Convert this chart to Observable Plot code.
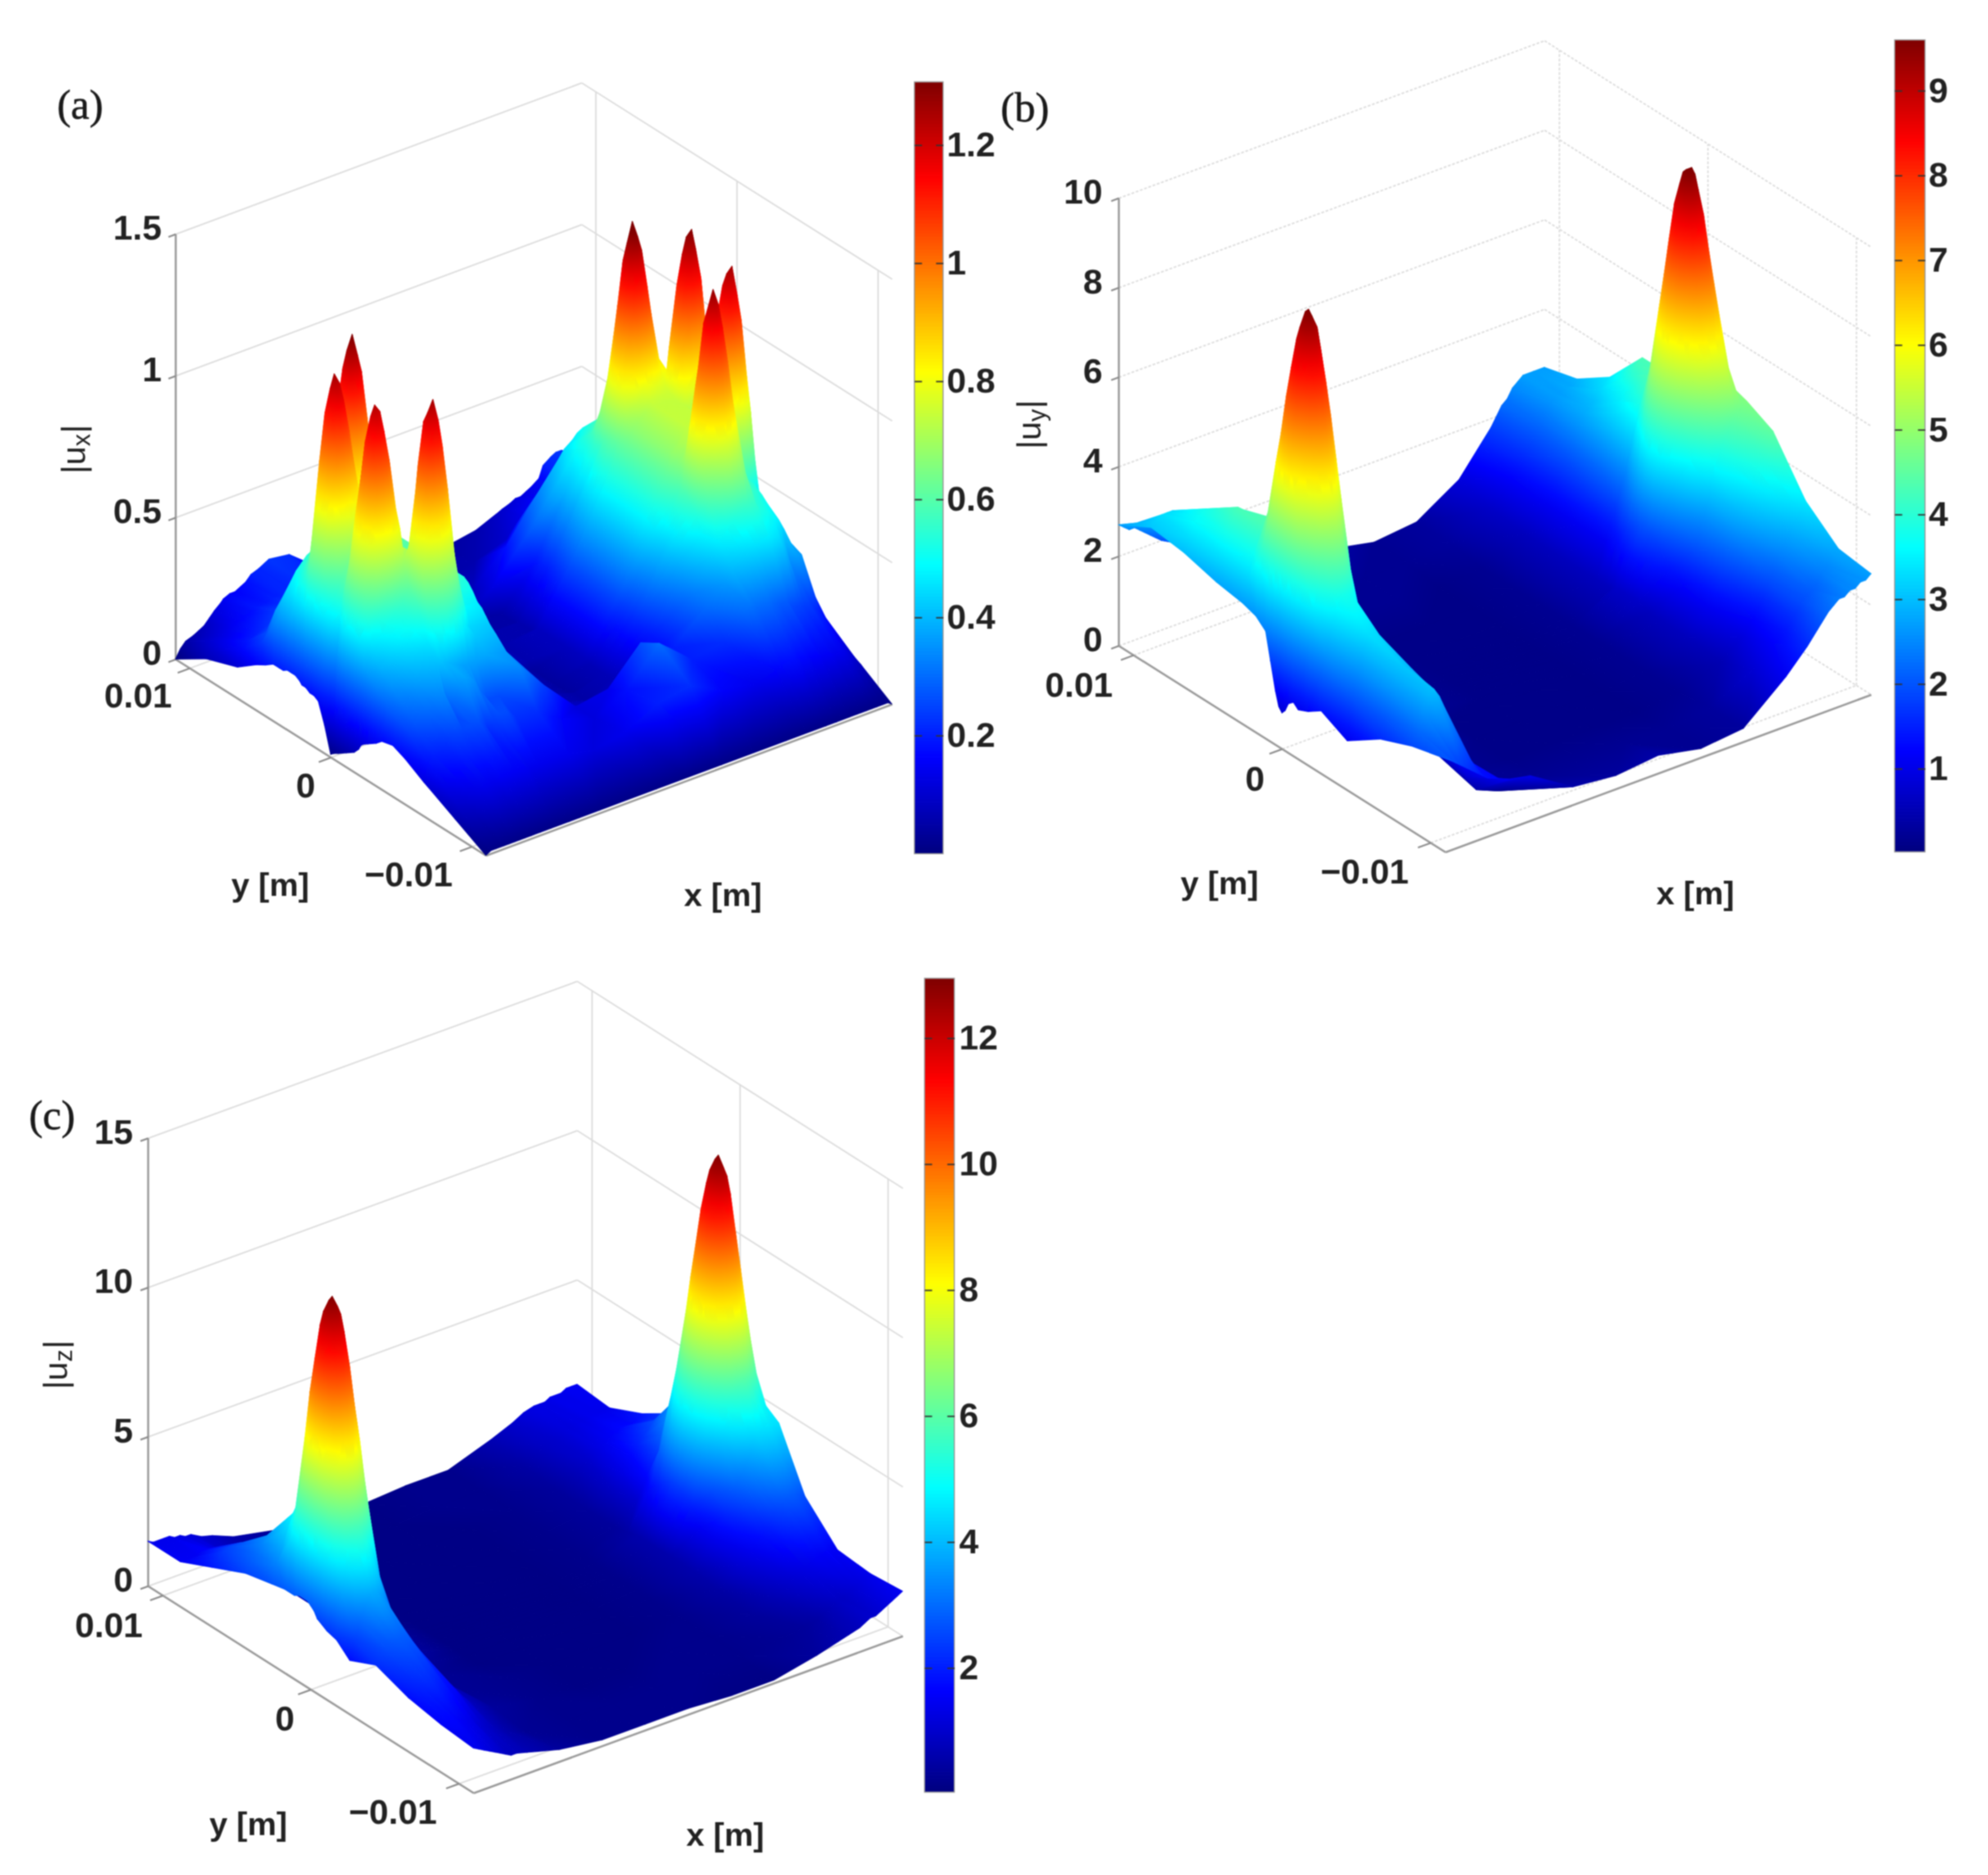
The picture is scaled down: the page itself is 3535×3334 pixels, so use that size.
<!DOCTYPE html>
<html><head><meta charset="utf-8">
<script src="https://cdn.jsdelivr.net/npm/d3@7"></script>
<script src="https://cdn.jsdelivr.net/npm/@observablehq/plot@0.6"></script>
<style>html,body{margin:0;background:#fff}#page{position:relative;width:3535px;height:3334px;overflow:hidden}#page svg{position:absolute;background:transparent;filter:blur(0.8px)}</style>
</head><body><div id="page"></div>
<script>
// Sample positions along the plate, as fractions of its extent (x: near corner to right, y: near corner to left)
const xFracA=[0,.012,.025,.044,.057,.07,.083,.096,.112,.118,.134,.147,.16,.173,.186,.205,.23,.28,.34,.42,.5,.58,.66,.74,.79,.805,.824,.837,.85,.863,.876,.895,.905,.924,.937,.95,.963,.976,.99,1];
const yFracA=[1,.9,.8,.74,.71,.685,.666,.653,.64,.627,.614,.6,.593,.58,.567,.554,.54,.52,.5,.49,.476,.463,.45,.437,.424,.41,.402,.393,.38,.367,.354,.335,.3,.26,.2,.1,0];
const xFracBC=[0,.0125,.025,.0375,.05,.0625,.075,.0875,.1,.125,.15,.2,.3,.4,.5,.6,.7,.8,.85,.875,.9,.9125,.925,.9375,.95,.9625,.975,.9875,1];
const yFracBC=[1,.9,.8,.7,.62,.58,.55,.535,.52,.51,.5,.49,.48,.465,.45,.42,.38,.3,.2,.1,0];

// |u_x| in hundredths
const uxRows=[
[0,3,5,6,7,8,10,12,14,15,16,16,17,18,20,21,23,22,15,10,5,5,4,6,9,10,11,12,12,13,14,16,20,22,23,23,22,20,19,17],
[7,10,12,13,14,15,16,17,18,19,19,19,20,20,21,21,22,20,12,7,4,5,6,10,14,16,17,18,18,18,19,20,22,22,23,23,23,22,20,18],
[11,17,19,20,21,22,23,24,25,25,25,25,25,25,24,24,24,20,11,6,4,8,18,33,42,45,47,49,50,50,50,49,42,38,35,32,30,26,22,18],
[16,23,26,27,28,29,30,31,31,31,30,29,28,27,26,25,24,20,10,5,4,12,25,40,50,53,55,57,58,58,58,57,48,45,41,38,34,30,24,18],
[18,30,36,40,42,43,45,46,47,48,47,46,45,44,43,43,40,34,14,5,5,5,18,40,52,57,60,62,63,64,64,63,57,54,52,48,44,38,30,20],
[20,35,42,47,50,52,54,55,57,63,70,73,73,70,64,55,46,38,18,6,5,5,20,42,55,66,77,83,86,84,80,71,61,58,55,52,47,41,32,20],
[20,37,44,50,53,55,56,58,62,75,92,101,103,97,85,66,49,41,20,6,5,5,20,42,56,74,93,105,110,106,96,79,62,58,55,52,47,42,32,20],
[20,38,46,52,55,57,58,60,66,83,106,119,122,115,99,73,51,43,22,7,6,6,21,44,59,80,105,120,126,121,108,85,64,60,57,54,49,44,34,22],
[21,40,49,55,59,61,62,63,68,87,112,126,131,123,105,77,53,45,23,7,6,6,22,45,60,84,111,127,134,128,114,89,66,63,61,57,52,46,35,22],
[21,41,51,59,63,66,67,67,71,86,109,122,125,118,102,76,54,46,24,8,6,6,23,46,61,83,108,123,129,124,111,88,68,68,66,63,57,51,38,24],
[21,43,54,66,72,75,76,74,73,83,98,107,109,103,91,72,55,47,25,8,6,6,24,47,61,80,99,111,116,112,102,85,72,74,75,72,66,57,42,25],
[20,46,62,80,91,96,95,88,79,76,81,83,82,79,73,64,56,49,26,9,6,7,25,47,62,72,84,90,93,91,87,79,81,92,97,96,88,73,49,28],
[19,49,69,96,112,120,117,106,86,74,71,69,67,65,63,60,58,50,27,10,6,8,26,48,62,69,74,77,80,79,78,77,90,111,121,123,112,92,58,32],
[19,50,71,100,117,126,122,110,89,74,68,65,63,61,61,60,60,52,27,10,6,8,26,48,62,67,70,72,75,75,75,75,93,116,128,130,119,96,60,32],
[18,49,69,96,112,120,117,106,87,73,67,64,61,60,60,60,60,52,27,10,6,8,26,48,62,67,70,72,74,74,74,75,91,112,122,124,113,92,58,32],
[18,48,65,87,100,106,105,97,83,72,67,64,61,60,60,60,60,52,27,10,6,8,26,48,62,67,70,72,74,74,74,74,86,101,108,108,99,81,53,30],
[17,46,58,71,78,83,83,81,76,71,67,64,61,60,60,60,60,52,27,10,6,8,26,48,62,67,70,72,74,74,74,74,78,83,84,82,75,63,45,28],
[10,44,53,60,63,66,68,69,71,70,67,64,61,60,60,60,60,52,27,10,6,8,26,48,62,67,70,72,74,74,74,74,72,69,65,61,56,49,39,27],
[1,30,50,62,66,70,71,72,72,70,67,64,61,60,60,60,60,52,27,9,4,8,26,48,62,67,70,72,74,74,74,74,73,72,69,66,60,52,40,26],
[2,38,58,71,78,83,83,81,76,71,67,64,61,60,60,60,60,52,27,9,4,8,26,48,62,67,70,72,74,74,74,74,77,82,82,80,73,62,44,28],
[3,46,65,86,98,105,103,96,83,72,67,64,61,60,60,60,60,53,28,9,4,8,26,48,62,67,70,72,74,74,74,74,85,99,105,105,96,79,52,30],
[4,48,69,96,111,119,116,106,87,73,67,64,62,60,60,60,60,53,28,9,4,8,26,48,62,67,70,72,74,74,74,75,90,109,119,120,110,89,57,31],
[5,49,71,99,116,124,121,109,89,73,68,65,63,61,61,60,60,53,28,9,4,8,26,48,62,68,71,73,75,75,75,75,91,113,124,126,115,93,58,32],
[6,48,68,94,110,118,115,104,86,73,69,66,64,62,61,60,60,53,28,9,4,8,26,47,61,67,71,73,75,75,74,74,88,107,116,117,107,87,56,31],
[7,46,62,83,95,100,99,91,80,72,71,69,66,64,62,60,58,52,28,9,4,7,24,46,60,67,72,74,76,75,73,73,81,92,98,98,90,75,50,29],
[9,40,53,65,72,77,77,75,70,70,76,80,79,76,70,61,55,50,27,8,4,7,23,44,58,70,79,84,87,85,82,74,71,76,77,76,69,59,42,26],
[11,37,46,53,57,60,61,62,64,75,93,103,105,99,87,67,53,48,26,8,4,7,23,43,59,76,94,104,109,105,97,80,66,64,62,60,54,48,37,24],
[12,36,43,48,51,53,55,57,61,79,104,118,121,114,98,71,51,47,25,8,4,7,22,42,58,78,101,116,122,117,104,83,63,59,56,54,49,43,35,22],
[13,34,40,45,48,50,52,54,59,79,106,122,126,118,100,71,49,46,24,8,4,7,22,42,57,79,104,120,128,122,108,84,63,59,56,54,49,43,34,22],
[14,33,39,43,46,48,50,52,57,75,100,114,117,110,94,67,47,44,23,8,5,7,21,40,55,75,98,113,120,115,102,80,61,57,55,53,48,42,33,21],
[15,31,37,41,43,45,47,49,53,66,84,94,96,90,78,60,44,42,22,8,5,7,20,38,53,69,87,98,104,100,91,74,58,56,54,52,47,41,32,21],
[17,29,35,38,40,42,43,44,46,53,61,65,65,62,56,47,42,40,21,8,5,8,19,36,48,59,68,74,77,75,72,64,56,54,52,50,46,40,31,20],
[18,27,31,33,35,37,38,39,40,41,40,39,38,37,37,37,38,36,20,9,7,10,18,32,43,47,50,52,54,55,56,55,53,51,49,47,43,38,30,19],
[16,24,27,29,30,31,33,34,26,30,35,37,36,34,30,26,26,34,24,12,14,26,20,30,36,40,42,43,44,45,46,47,46,44,40,34,37,36,26,17],
[12,18,20,21,22,24,25,25,26,26,27,25,22,24,26,26,22,22,16,12,18,30,20,22,30,31,30,30,30,29,28,28,26,25,24,24,22,20,17,13],
[6,9,10,12,13,14,14,14,15,15,15,15,15,15,14,14,14,14,12,14,20,22,16,14,16,17,18,18,17,17,16,16,15,15,14,14,13,11,9,7],
[0,1,1,1,1,1,1,1,1,1,1,1,1,1,1,1,1,1,1,1,1,1,1,1,1,1,1,1,1,1,1,1,1,1,1,1,1,1,1,0]];

// |u_y| in tenths
const uyRows=[
[27,26,25,25,24,23,22,21,20,19,19,15,10,6,4,2,3,9,15,18,22,23,25,26,27,27,27,27,27],
[31,32,33,33,33,32,31,29,27,22,18,12,6,3,2,2,3,7,12,16,20,22,24,26,27,27,28,28,29],
[30,33,36,37,38,37,35,32,28,21,15,8,3,2,2,1,2,6,11,15,20,23,26,28,29,30,32,33,34],
[28,33,38,41,43,42,40,35,30,21,14,6,2,1,1,1,2,6,11,16,22,26,30,33,35,37,40,42,43],
[27,32,37,40,43,44,42,38,33,20,11,5,2,1,1,1,2,6,11,17,25,30,35,39,42,44,44,44,43],
[26,40,46,50,53,54,53,48,42,26,14,5,2,1,1,1,2,6,14,23,35,42,48,53,56,57,57,53,48],
[24,51,61,67,71,73,71,65,57,34,18,6,2,1,1,1,2,6,17,29,47,55,64,71,74,75,71,65,55],
[18,57,68,76,81,83,81,74,64,39,20,6,2,1,1,1,2,6,18,32,53,63,72,80,84,84,79,71,59],
[12,62,75,83,89,91,89,81,71,43,22,6,2,1,1,1,2,7,19,35,57,69,79,88,92,92,86,75,62],
[9,64,77,86,92,95,92,84,73,44,23,6,2,1,1,1,2,7,20,36,59,71,82,91,95,95,88,77,64],
[8,65,78,87,93,96,93,85,74,45,23,6,2,1,1,1,2,7,20,36,60,72,83,92,96,96,89,78,64],
[9,64,77,86,92,95,92,84,73,44,23,6,2,1,1,1,2,7,20,36,59,71,82,91,95,95,88,77,64],
[11,58,72,81,88,91,88,80,70,42,22,6,2,1,1,1,2,7,19,35,57,69,79,88,92,92,86,75,62],
[12,50,64,74,80,83,80,73,63,38,20,6,2,1,1,1,2,7,18,32,53,63,72,80,84,84,79,71,59],
[11,42,55,65,71,73,71,63,55,33,18,6,2,1,1,1,2,7,17,29,47,55,64,71,74,75,71,65,55],
[12,33,42,48,52,54,52,46,40,25,14,5,2,1,1,1,2,6,14,24,36,43,49,54,56,58,58,54,49],
[14,26,32,36,38,38,37,33,28,18,10,4,1,1,1,1,2,6,12,19,26,31,36,39,42,44,46,47,48],
[11,20,26,30,33,33,32,28,24,15,8,3,1,1,1,1,2,6,11,16,22,26,29,32,35,38,40,43,45],
[16,20,26,29,31,30,29,25,20,12,6,2,1,1,1,1,2,5,9,12,16,19,21,24,26,28,30,32,34],
[19,22,26,29,30,28,25,19,14,8,4,2,2,2,2,2,3,8,12,14,17,19,20,21,22,24,25,27,28],
[21,20,19,18,17,16,15,14,13,12,11,10,4,3,4,2,3,11,16,19,22,23,24,24,25,25,26,26,27]];

// |u_z| in tenths
const uzRows=[
[15,14,14,14,14,13,13,12,12,10,9,6,3,1,1,2,2,7,10,12,13,13,13,14,14,14,15,15,15],
[15,15,15,15,16,16,15,14,13,10,8,5,3,1,1,2,2,5,9,10,12,12,13,13,14,14,14,14,14],
[20,22,24,25,25,25,23,20,17,11,7,4,2,1,1,1,2,4,8,10,13,14,15,16,17,17,17,18,19],
[25,28,30,33,35,33,31,27,22,14,7,3,1,1,1,1,2,4,9,13,17,20,22,24,26,26,25,25,26],
[27,33,38,44,48,44,40,33,26,15,8,3,1,1,1,1,2,4,10,17,24,29,34,37,40,37,34,29,25],
[28,44,53,57,58,56,51,45,38,22,13,4,1,1,1,1,2,5,17,29,45,53,58,60,61,60,54,50,45],
[28,62,80,87,89,86,78,68,56,31,16,5,1,1,1,1,2,6,20,38,63,75,84,89,91,88,78,68,57],
[29,72,96,105,107,104,94,81,66,37,18,5,1,1,1,1,2,6,22,43,73,88,99,106,108,104,92,78,64],
[29,81,108,119,121,118,106,91,75,41,20,5,1,1,1,1,2,6,23,47,81,98,111,119,122,117,103,87,69],
[29,84,113,124,127,123,111,96,78,42,21,5,1,1,1,1,2,6,24,48,84,102,115,124,127,122,108,90,71],
[28,85,115,126,129,125,113,97,79,43,21,5,1,1,1,1,2,6,24,49,85,103,117,126,129,124,109,91,72],
[27,82,112,123,127,123,111,96,78,42,21,5,1,1,1,1,2,6,24,48,84,102,115,124,127,122,108,90,71],
[25,76,105,117,121,118,106,91,75,41,20,5,1,1,1,1,2,6,23,47,81,98,111,119,122,117,103,87,69],
[24,66,92,103,107,104,94,81,66,37,18,5,1,1,1,1,2,6,22,43,73,88,99,106,108,104,92,78,64],
[23,56,76,85,89,86,78,68,56,31,16,5,1,1,1,1,2,6,20,38,63,75,84,89,91,88,78,68,57],
[22,38,50,56,58,56,51,45,38,22,13,4,1,1,1,1,2,6,15,26,42,50,56,58,60,58,54,50,48],
[18,24,30,35,38,38,36,32,28,18,9,3,1,1,1,1,2,6,14,21,28,32,36,40,44,45,46,45,45],
[22,24,26,27,28,28,28,25,22,15,9,3,2,1,1,1,2,5,11,14,18,20,23,25,27,28,28,27,26],
[18,20,21,22,22,21,20,18,17,12,8,4,2,1,1,2,2,4,7,9,11,12,13,14,15,15,16,15,15],
[16,17,17,16,15,14,13,11,10,8,6,3,2,2,2,2,2,3,4,5,7,8,9,9,10,11,12,13,14],
[15,14,13,12,11,10,9,8,8,7,6,4,2,2,2,1,1,4,6,7,8,9,10,10,11,12,13,14,15]];

const zTicksA=[0,.5,1,1.5], zTicksB=[0,2,4,6,8,10], zTicksC=[0,5,10,15];
const yTicks=[.01,0,-.01];
const barTicksA=[.2,.4,.6,.8,1,1.2], barTicksB=[1,2,3,4,5,6,7,8,9], barTicksC=[2,4,6,8,10,12];
const jetStops=[0,.125,.375,.625,.875,1];
const jetColors=["#00007f","#0000ff","#00ffff","#ffff00","#ff0000","#7f0000"];

const SANS="'Liberation Sans',Arial,sans-serif", SERIF="'Liberation Serif',serif";
const yFrac=y=>(y+.011)/.022;

function panel(c){
  const P=(u,w,z)=>[c.F[0]+u*c.ex[0]+w*c.ey[0], c.F[1]+u*c.ex[1]+w*c.ey[1]-z*c.zPx];
  const seg=(a,b)=>{const p=P(...a),q=P(...b);return {x1:p[0],y1:p[1],x2:q[0],y2:q[1]};};
  const zTop=c.zTicks[c.zTicks.length-1];
  // surface triangles, far to near
  const H=c.rows.map(r=>r.map(v=>v*c.unit)), rows=[]; let id=0;
  const addTri=(A,B,C)=>{
    const pa=P(...A),pb=P(...B),pc=P(...C),v=(A[2]+B[2]+C[2])/3,vals=[A[2],B[2],C[2]];
    rows.push({id,x1:pa[0],y1:pa[1],x2:pa[0],y2:pa[1],v,vals});
    rows.push({id,x1:pb[0],y1:pb[1],x2:pc[0],y2:pc[1],v,vals}); id++;
  };
  for(let r=0;r<c.W.length-1;r++) for(let k=c.U.length-2;k>=0;k--){
    const a=[c.U[k+1],c.W[r],H[r][k+1]],b=[c.U[k],c.W[r],H[r][k]],d=[c.U[k+1],c.W[r+1],H[r+1][k+1]],e=[c.U[k],c.W[r+1],H[r+1][k]];
    if(Math.abs(b[2]-d[2])<=Math.abs(a[2]-e[2])){addTri(a,b,d);addTri(b,d,e);}
    else{addTri(a,b,e);addTri(a,d,e);}
  }
  const gouraud=(index,scales,values,dims,ctx,next)=>{
    const g=next(index,scales,values,dims,ctx), sel=d3.select(g), defs=sel.append("defs");
    const span=c.barMax-c.barMin;
    sel.selectAll("path").each(function(I,k){
      const r0=rows[I[0]];
      const pts=[[values.x1[I[0]],values.y1[I[0]],r0.vals[0]],[values.x1[I[1]],values.y1[I[1]],r0.vals[1]],[values.x2[I[1]],values.y2[I[1]],r0.vals[2]]].sort((p,q)=>p[2]-q[2]);
      const [L,M,T]=pts, dv=T[2]-L[2];
      if(dv<span*1e-4) return;
      const s=(M[2]-L[2])/dv, qx=L[0]+s*(T[0]-L[0]), qy=L[1]+s*(T[1]-L[1]);
      let nx=-(M[1]-qy), ny=M[0]-qx, len=Math.hypot(nx,ny);
      if(len<1e-6){nx=T[0]-L[0];ny=T[1]-L[1];len=Math.hypot(nx,ny);} 
      if(len<1e-6) return;
      nx/=len;ny/=len;
      let d=(T[0]-L[0])*nx+(T[1]-L[1])*ny;
      if(d<0){nx=-nx;ny=-ny;d=-d;}
      if(d<1e-6) return;
      const gid=`${c.name}g${k}`;
      const grad=defs.append("linearGradient").attr("id",gid).attr("gradientUnits","userSpaceOnUse")
        .attr("x1",L[0]).attr("y1",L[1]).attr("x2",L[0]+nx*d).attr("y2",L[1]+ny*d);
      const n=Math.max(1,Math.ceil(dv/span*24));
      for(let i=0;i<=n;i++) grad.append("stop").attr("offset",i/n).attr("stop-color",scales.color(L[2]+dv*i/n));
      d3.select(this).attr("fill",`url(#${gid})`).attr("stroke",`url(#${gid})`);
    });
    sel.selectAll("path").attr("stroke-width",1.3).attr("stroke-linejoin","round").each(function(I){
      if(!this.getAttribute("stroke")) this.setAttribute("stroke",this.getAttribute("fill"));
    });
    return g;
  };
  // walls and floor
  const wall=[];
  for(const z of c.zTicks){wall.push(seg([0,1,z],[1,1,z]),seg([1,1,z],[1,0,z]));}
  for(const y of yTicks){wall.push(seg([1,yFrac(y),0],[1,yFrac(y),zTop]),seg([0,yFrac(y),0],[1,yFrac(y),0]));}
  const axes=[seg([0,1,0],[0,1,zTop]),seg([0,1,0],[0,0,0]),seg([0,0,0],[1,0,0])];
  const axTicks=[...c.zTicks.map(z=>seg([-.018,1,z],[0,1,z])),...yTicks.map(y=>seg([-.03,yFrac(y),0],[0,yFrac(y),0]))];
  // colour bar
  const by=v=>c.barRef[1]-(v-c.barRef[0])*c.barPx;
  const n=240, step=(c.barMax-c.barMin)/n;
  const bar=d3.range(n).map(i=>{const v=c.barMin+(i+.5)*step;return {v,y1:by(c.barMin+i*step)+.4,y2:by(c.barMin+(i+1)*step)-.4};});
  const barTickRows=c.barTicks.flatMap(v=>[{x1:c.barX[0],x2:c.barX[0]+13,y:by(v)},{x1:c.barX[1]-13,x2:c.barX[1],y:by(v)}]);
  const zLabels=c.zTicks.map(z=>({t:String(z),x:c.zLabelX,y:P(0,1,z)[1]-10}));
  const barLabels=c.barTicks.map(v=>({t:String(v),x:c.barX[1]+c.barGap,y:by(v)}));
  const T={fontFamily:SANS,fontWeight:"bold",fontSize:62,fill:"#222",lineAnchor:"middle"};
  const link=(data,stroke,w,extra={})=>Plot.link(data,{x1:"x1",y1:"y1",x2:"x2",y2:"y2",stroke,strokeWidth:w,strokeLinecap:"butt",...extra});
  const [lx,ly]=c.uLabel;
  const svg=Plot.plot({
    width:c.w,height:c.h,margin:0,
    x:{axis:null,domain:[c.left,c.left+c.w],range:[0,c.w]},
    y:{axis:null,domain:[c.top,c.top+c.h],range:[0,c.h]},
    color:{type:"linear",domain:jetStops.map(t=>c.barMin+t*(c.barMax-c.barMin)),range:jetColors,clamp:true},
    style:{background:"transparent",left:c.left+"px",top:c.top+"px"},
    marks:[
      link(wall,"#dcdcdc",2.6,c.dash?{strokeDasharray:c.dash}:{}),
      link(axes,"#9a9a9a",3.6),
      link(axTicks,"#8a8a8a",3),
      Plot.area(rows,{x1:"x1",y1:"y1",x2:"x2",y2:"y2",z:"id",fill:"v",render:gouraud}),
      Plot.rect(bar,{x1:c.barX[0],x2:c.barX[1],y1:"y1",y2:"y2",fill:"v"}),
      Plot.rect([0],{x1:c.barX[0],x2:c.barX[1],y1:by(c.barMin),y2:by(c.barMax),stroke:"#999",strokeWidth:2,fill:"none"}),
      Plot.link(barTickRows,{x1:"x1",x2:"x2",y1:"y",y2:"y",stroke:"#333",strokeWidth:2.5}),
      Plot.text(zLabels,{x:"x",y:"y",text:"t",textAnchor:"end",...T}),
      Plot.text(barLabels,{x:"x",y:"y",text:"t",textAnchor:"start",...T}),
      Plot.text(c.tickLabels,{x:"x",y:"y",text:"t",textAnchor:"middle",...T,fontSize:c.tickFont||62}),
      Plot.text(c.axisLabels,{x:"x",y:"y",text:"t",textAnchor:"middle",...T,fontSize:58}),
      Plot.text([{t:"|u"}],{x:()=>lx,y:()=>ly,text:"t",rotate:-90,textAnchor:"start",lineAnchor:"middle",fontFamily:SANS,fontSize:60,fill:"#222"}),
      Plot.text([{t:c.sub}],{x:()=>lx+14,y:()=>ly-49,text:"t",rotate:-90,textAnchor:"start",lineAnchor:"middle",fontFamily:SANS,fontSize:44,fill:"#222"}),
      Plot.text([{t:"|"}],{x:()=>lx,y:()=>ly-72,text:"t",rotate:-90,textAnchor:"start",lineAnchor:"middle",fontFamily:SANS,fontSize:60,fill:"#222"}),
      Plot.text([c.tag],{x:"x",y:"y",text:"t",textAnchor:"middle",lineAnchor:"middle",fontFamily:SERIF,fontSize:74,fontWeight:500,fill:"#1a1a1a",stroke:"#1a1a1a",strokeWidth:.9})
    ]
  });
  document.getElementById("page").appendChild(svg);
}

panel({name:"a",left:0,top:0,w:1775,h:1660,F:[864,1521],ex:[722,-269],ey:[-552,-349],zPx:504,
  U:xFracA,W:yFracA,rows:uxRows,unit:.01,zTicks:zTicksA,zLabelX:287,
  barX:[1626,1677],barMin:0,barMax:1.307,barRef:[.2,1308],barPx:1050,barTicks:barTicksA,barGap:6,
  tickLabels:[{t:"0.01",x:245,y:1238},{t:"0",x:543,y:1398},{t:"−0.01",x:726,y:1556}],
  axisLabels:[{t:"y [m]",x:480,y:1574},{t:"x [m]",x:1285,y:1592}],
  uLabel:[131,842],sub:"x",tag:{t:"(a)",x:142,y:187}});
panel({name:"b",left:1775,top:0,w:1760,h:1660,F:[2570,1515],ex:[757,-280],ey:[-581,-367],zPx:79.6,dash:"5,3",
  U:xFracBC,W:yFracBC,rows:uyRows,unit:.1,zTicks:zTicksB,zLabelX:1960,
  barX:[3369,3423],barMin:.02,barMax:9.6,barRef:[1,1367],barPx:150.7,barTicks:barTicksB,barGap:6,
  tickLabels:[{t:"0.01",x:1918,y:1219},{t:"0",x:2231,y:1386},{t:"−0.01",x:2426,y:1551}],
  axisLabels:[{t:"y [m]",x:2168,y:1571},{t:"x [m]",x:3014,y:1589}],
  uLabel:[1830,798],sub:"y",tag:{t:"(b)",x:1822,y:192}});
panel({name:"c",left:0,top:1660,w:1775,h:1674,F:[842,3188],ex:[763,-279],ey:[-579,-368],zPx:53.1,
  U:xFracBC,W:yFracBC,rows:uzRows,unit:.1,zTicks:zTicksC,zLabelX:236,
  barX:[1644,1697],barMin:.03,barMax:12.95,barRef:[2,2966],barPx:112,barTicks:barTicksC,barGap:8,
  tickLabels:[{t:"0.01",x:193,y:2891},{t:"0",x:506,y:3057},{t:"−0.01",x:698,y:3223}],
  axisLabels:[{t:"y [m]",x:441,y:3244},{t:"x [m]",x:1289,y:3263}],
  uLabel:[99,2470],sub:"z",tag:{t:"(c)",x:92,y:1984}});
</script></body></html>
